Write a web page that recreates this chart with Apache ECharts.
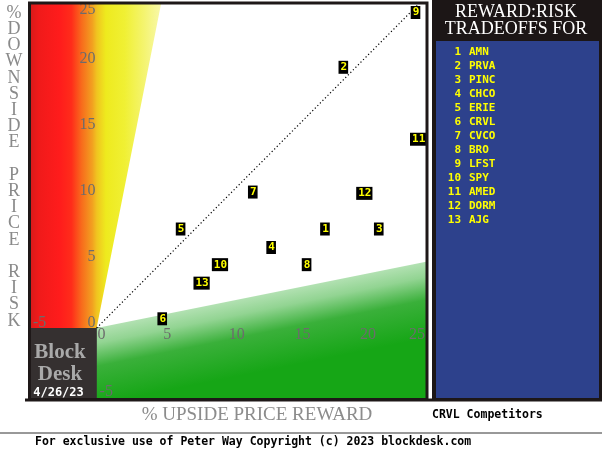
<!DOCTYPE html>
<html>
<head>
<meta charset="utf-8">
<script src="https://cdn.jsdelivr.net/npm/echarts@6/dist/echarts.min.js"></script>
<style>
  html, body { margin: 0; padding: 0; background: #fff; }
  #main { width: 602px; height: 460px; }
</style>
</head>
<body>
<div id="main"></div>
<script>
// --- data ---
const tickers = ['AMN', 'PRVA', 'PINC', 'CHCO', 'ERIE', 'CRVL', 'CVCO', 'BRO', 'LFST', 'SPY', 'AMED', 'DORM', 'AJG']
// % upside price reward (x)
const upside = [17.4, 18.8, 21.5, 13.3, 6.4, 5.0, 11.9, 16.0, 24.3, 9.4, 24.5, 20.4, 8.0]
// % downside price risk (y)
const downside = [7.5, 19.75, 7.5, 6.1, 7.5, 0.7, 10.3, 4.8, 23.9, 4.8, 14.3, 10.2, 3.4]
const xTicks = [-5, 0, 5, 10, 15, 20, 25]
const yTicks = [-5, 0, 5, 10, 15, 20, 25]
const chartDate = '4/26/23'
const subject = 'CRVL'

// axis window
const X0 = -5, X1 = 25.1, Y0 = -5.3, Y1 = 24.62

const chart = echarts.init(document.getElementById('main'))

// background zones drawn through the grid's coordinate system
function zoneSeries (pts, fill) {
  return {
    type: 'custom',
    silent: true,
    z: 1,
    animation: false,
    data: [[0, 0]],
    renderItem: (params, api) => ({
      type: 'polygon',
      shape: { points: pts.map(p => api.coord(p)) },
      style: { fill: fill }
    })
  }
}

const hotFill = new echarts.graphic.LinearGradient(0, 0, 1, 0, [
  { offset: 0, color: '#da1a1a' },
  { offset: 0.06, color: '#f01a1a' },
  { offset: 0.22, color: '#ff1c1c' },
  { offset: 0.31, color: '#ff2c1a' },
  { offset: 0.39, color: '#f86c1c' },
  { offset: 0.47, color: '#f2a020' },
  { offset: 0.505, color: '#f0c420' },
  { offset: 0.575, color: '#eeea1e' },
  { offset: 0.72, color: '#f0f034' },
  { offset: 0.87, color: '#f4f470' },
  { offset: 1, color: '#f8f8aa' }
])
const safeFill = new echarts.graphic.LinearGradient(0.5, 0.243, 0.545, 0.783, [
  { offset: 0, color: '#b2e1b2' },
  { offset: 0.2, color: '#92d492' },
  { offset: 0.5, color: '#3ab03a' },
  { offset: 1, color: '#16a616' }
])

const points = upside.map((x, i) => [x, downside[i]])

chart.setOption({
  animation: false,
  grid: { left: 31, top: 3, width: 395, height: 395 },
  xAxis: {
    type: 'value', min: X0, max: X1,
    axisLine: { onZero: true, lineStyle: { color: '#404040', width: 1.5 } },
    axisTick: { show: false }, axisLabel: { show: false }, splitLine: { show: false }
  },
  yAxis: {
    type: 'value', min: Y0, max: Y1,
    axisLine: { onZero: true, lineStyle: { color: '#404040', width: 1 } },
    axisTick: { show: false }, axisLabel: { show: false }, splitLine: { show: false }
  },
  series: [
    zoneSeries([[X0, 0], [0, 0], [Y1 / 5, Y1], [X0, Y1]], hotFill),
    zoneSeries([[0, 0], [X1, X1 / 5], [X1, Y0], [0, Y0]], safeFill),
    zoneSeries([[X0, Y0], [0, Y0], [0, 0], [X0, 0]], '#353030'),
    {
      type: 'line',
      data: [[0, 0], [25, 25]],
      symbol: 'none',
      z: 3,
      lineStyle: { color: '#000', width: 1.2, type: [1.2, 2.4] }
    },
    {
      type: 'scatter',
      data: points,
      symbolSize: 1,
      z: 5,
      itemStyle: { color: '#000', opacity: 1 },
      label: {
        show: true,
        position: 'inside',
        formatter: p => String(p.dataIndex + 1),
        color: '#ffff00',
        backgroundColor: '#000',
        fontFamily: 'DejaVu Sans Mono',
        fontWeight: 'bold',
        fontSize: 11,
        lineHeight: 12,
        padding: [1, 1, 0, 2]
      }
    }
  ]
})

// tick labels placed with the grid's scale
const graphics = []
const tickFont = '16px "Liberation Serif"'
xTicks.forEach(v => {
  const [px] = chart.convertToPixel({ gridIndex: 0 }, [v, 0])
  const y0 = chart.convertToPixel({ gridIndex: 0 }, [0, 0])[1]
  let x = px + 1
  let align = 'left'
  let y = y0 + 7
  if (v < 0) { x = px + 2; y = y0 - 5 }
  if (px + 16 > 426) { x = 425; align = 'right' }
  graphics.push({ type: 'text', z: 20, x: x, y: y, style: { text: String(v), font: tickFont, fill: '#6c6c6c', textAlign: align, textVerticalAlign: 'middle' } })
})
yTicks.forEach(v => {
  const [x0, py] = chart.convertToPixel({ gridIndex: 0 }, [0, v])
  let x = x0 - 1
  let align = 'right'
  let y = Math.max(py - 5, 10)
  if (v < 0) { x = x0 + 3; align = 'left'; y = py - 2 }
  graphics.push({ type: 'text', z: 20, x: x, y: y, style: { text: String(v), font: tickFont, fill: '#6c6c6c', textAlign: align, textVerticalAlign: 'middle' } })
})

// frame and decorations
graphics.push(
  { type: 'rect', z: 30, shape: { x: 29.5, y: 3, width: 397.5, height: 396.5 }, style: { fill: null, stroke: '#1e1818', lineWidth: 3 } },
  { type: 'line', z: 30, shape: { x1: 25, y1: 400, x2: 602, y2: 400 }, style: { stroke: '#1e1818', lineWidth: 3 } },
  { type: 'text', z: 20, x: 60, y: 353, style: { text: 'Block', font: 'bold 21px "Liberation Serif"', fill: '#a9a9a9', textAlign: 'center', textVerticalAlign: 'middle' } },
  { type: 'text', z: 20, x: 60, y: 375, style: { text: 'Desk', font: 'bold 21px "Liberation Serif"', fill: '#a9a9a9', textAlign: 'center', textVerticalAlign: 'middle' } },
  { type: 'text', z: 20, x: 58.5, y: 393, style: { text: chartDate, font: 'bold 12px "DejaVu Sans Mono"', fill: '#ffffff', textAlign: 'center', textVerticalAlign: 'middle' } },
  {
    type: 'text', z: 20, x: 14, y: 5,
    style: {
      text: '%DOWNSIDE PRICE RISK'.split('').map(c => c === ' ' ? '' : c).join('\n'),
      font: '18px "Liberation Serif"', lineHeight: 16.2, fill: '#8a8a8a', textAlign: 'center', textVerticalAlign: 'top'
    }
  },
  { type: 'text', z: 20, x: 257, y: 415, style: { text: '% UPSIDE PRICE REWARD', font: '19px "Liberation Serif"', fill: '#8c8c8c', textAlign: 'center', textVerticalAlign: 'middle' } },
  { type: 'text', z: 20, x: 432, y: 415, style: { text: subject + ' Competitors', font: 'bold 11.5px "DejaVu Sans Mono"', fill: '#000', textAlign: 'left', textVerticalAlign: 'middle' } },
  { type: 'line', z: 20, shape: { x1: 0, y1: 433, x2: 602, y2: 433 }, style: { stroke: '#333', lineWidth: 1 } },
  { type: 'text', z: 20, x: 35, y: 442, style: { text: 'For exclusive use of Peter Way Copyright (c) 2023 blockdesk.com', font: 'bold 11.5px "DejaVu Sans Mono"', fill: '#000', textAlign: 'left', textVerticalAlign: 'middle' } },
  // right panel
  { type: 'rect', z: 10, shape: { x: 432, y: 0, width: 170, height: 401 }, style: { fill: '#1c1616' } },
  { type: 'rect', z: 11, shape: { x: 436, y: 41, width: 163, height: 357 }, style: { fill: '#2d418c' } },
  { type: 'text', z: 20, x: 516, y: 12, style: { text: 'REWARD:RISK', font: '18px "Liberation Serif"', fill: '#fff', textAlign: 'center', textVerticalAlign: 'middle' } },
  { type: 'text', z: 20, x: 516, y: 29, style: { text: 'TRADEOFFS FOR', font: '18px "Liberation Serif"', fill: '#fff', textAlign: 'center', textVerticalAlign: 'middle' } }
)
tickers.forEach((t, i) => {
  const y = 52 + 14 * i
  graphics.push(
    { type: 'text', z: 20, x: 461, y: y, style: { text: String(i + 1), font: 'bold 11px "DejaVu Sans Mono"', fill: '#ffff00', textAlign: 'right', textVerticalAlign: 'middle' } },
    { type: 'text', z: 20, x: 469, y: y, style: { text: t, font: 'bold 11px "DejaVu Sans Mono"', fill: '#ffff00', textAlign: 'left', textVerticalAlign: 'middle' } }
  )
})

chart.setOption({ graphic: graphics })
</script>
</body>
</html>
